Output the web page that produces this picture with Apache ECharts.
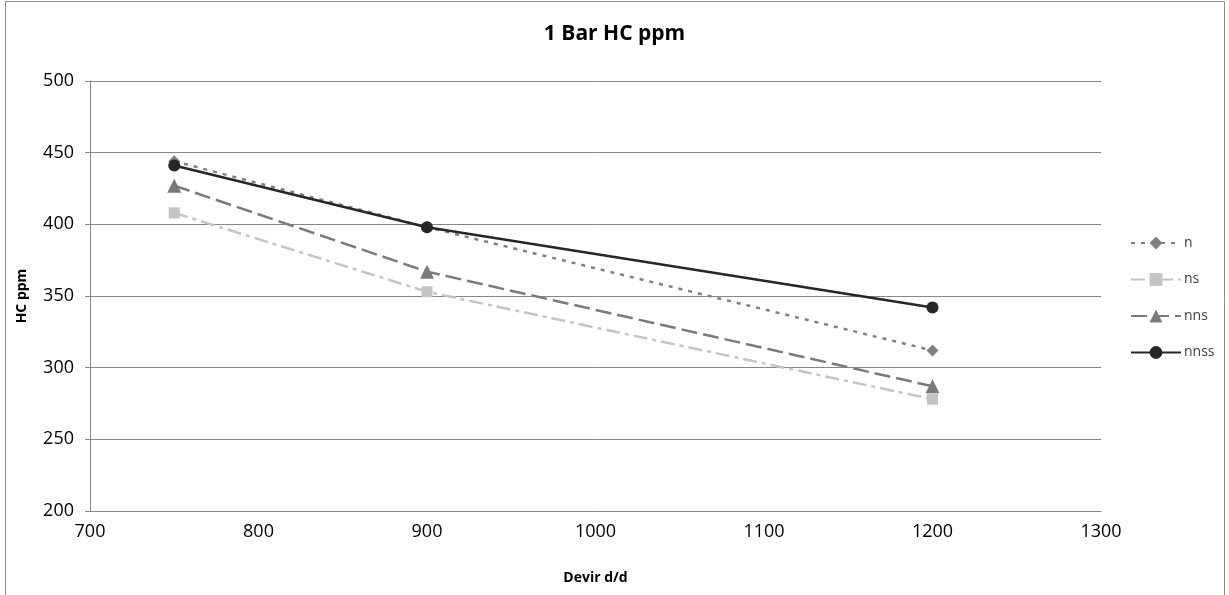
<!DOCTYPE html>
<html>
<head>
<meta charset="utf-8">
<script src="https://cdn.jsdelivr.net/npm/echarts@6/dist/echarts.min.js"></script>
<style>
  html, body { margin: 0; padding: 0; background: #fff; }
  #chart { width: 1229px; height: 595px; }
</style>
</head>
<body>
<div id="chart"></div>
<script>
// Engine speed (rpm) at which HC was measured
const devir = [750, 900, 1200];

// HC ppm readings per configuration
const nValues    = [444, 398, 312];
const nsValues   = [408, 353, 278];
const nnsValues  = [427, 367, 287];
const nnssValues = [441, 398, 342];

const seriesNames = ['n', 'ns', 'nns', 'nnss'];

const xTicks = { min: 700, max: 1300, interval: 100 };
const yTicks = { min: 200, max: 500, interval: 50 };

const pairs = vals => devir.map((d, i) => [d, vals[i]]);

const font = '"Open Sans", "DejaVu Sans", sans-serif';
const axisGrey = '#868686';

const chart = echarts.init(document.getElementById('chart'), null, { renderer: 'canvas' });

chart.setOption({
  animation: false,
  backgroundColor: '#ffffff',
  textStyle: { fontFamily: font },
  title: {
    text: '1 Bar HC ppm',
    left: 'center',
    top: 19,
    textStyle: { fontFamily: font, fontSize: 21, fontWeight: 'bold', color: '#000' }
  },
  graphic: [{
    type: 'rect',
    shape: { x: 5.5, y: 1.5, width: 1219, height: 620 },
    style: { fill: 'none', stroke: '#8c8c8c', lineWidth: 1 },
    silent: true,
    z: -1
  }],
  grid: { left: 90, right: 128, top: 81, bottom: 84 },
  legend: {
    orient: 'vertical',
    left: 1125,
    top: 231,
    itemWidth: 50,
    itemHeight: 16,
    itemGap: 22.5,
    data: seriesNames,
    textStyle: { fontFamily: font, fontSize: 14, color: '#404040', padding: [0, 0, 0, -2] }
  },
  xAxis: {
    type: 'value',
    min: xTicks.min,
    max: xTicks.max,
    interval: xTicks.interval,
    name: 'Devir d/d',
    nameLocation: 'middle',
    nameGap: 60,
    nameTextStyle: { fontFamily: font, fontSize: 14, fontWeight: 'bold', color: '#000' },
    axisLine: { show: true, lineStyle: { color: axisGrey, width: 1 } },
    axisTick: { show: false },
    splitLine: { show: false },
    axisLabel: { fontFamily: font, fontSize: 18, color: '#000', margin: 12, formatter: v => String(v) }
  },
  yAxis: {
    type: 'value',
    min: yTicks.min,
    max: yTicks.max,
    interval: yTicks.interval,
    name: 'HC ppm',
    nameLocation: 'middle',
    nameGap: 61,
    nameTextStyle: { fontFamily: font, fontSize: 14, fontWeight: 'bold', color: '#000' },
    axisLine: { show: true, lineStyle: { color: axisGrey, width: 1 } },
    axisTick: { show: true, length: 5, lineStyle: { color: axisGrey } },
    splitLine: { show: true, lineStyle: { color: axisGrey, width: 1 } },
    axisLabel: { fontFamily: font, fontSize: 18, color: '#000', margin: 16, formatter: v => String(v) }
  },
  series: [
    {
      name: 'n',
      type: 'line',
      data: pairs(nValues),
      symbol: 'diamond',
      symbolSize: 12,
      itemStyle: { color: '#808080' },
      lineStyle: { color: '#808080', width: 2.5, type: [4, 6] }
    },
    {
      name: 'ns',
      type: 'line',
      data: pairs(nsValues),
      symbol: 'rect',
      symbolSize: 11,
      itemStyle: { color: '#c4c4c4' },
      lineStyle: { color: '#c4c4c4', width: 2.5, type: [14, 5, 4, 5] }
    },
    {
      name: 'nns',
      type: 'line',
      data: pairs(nnsValues),
      symbol: 'triangle',
      symbolSize: 14,
      itemStyle: { color: '#7a7a7a' },
      lineStyle: { color: '#7a7a7a', width: 2.5, type: [16, 6] }
    },
    {
      name: 'nnss',
      type: 'line',
      data: pairs(nnssValues),
      symbol: 'circle',
      symbolSize: 12,
      itemStyle: { color: '#262626' },
      lineStyle: { color: '#262626', width: 2.5, type: 'solid' }
    }
  ]
});
</script>
</body>
</html>
